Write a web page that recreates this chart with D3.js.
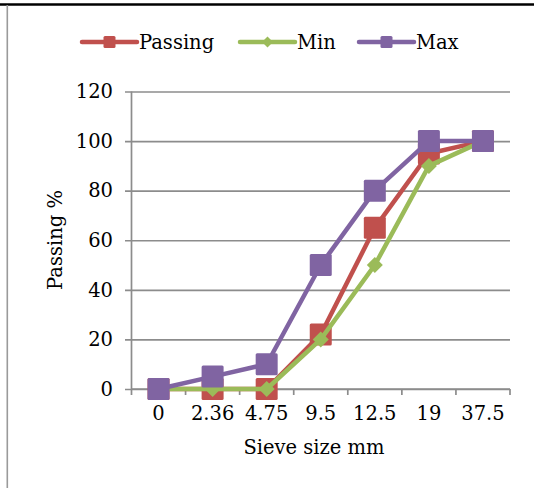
<!DOCTYPE html>
<html>
<head>
<meta charset="utf-8">
<script src="https://cdn.jsdelivr.net/npm/d3@7"></script>
<style>
  html, body { margin: 0; padding: 0; background: #fff; }
  svg { display: block; }
  text { font-family: "DejaVu Serif", "Liberation Serif", serif; fill: #000; }
</style>
</head>
<body>
<svg id="chart" width="534" height="488"></svg>
<script>
// Sieve sizes (mm) and grading curves
const sieveSizes = ["0", "2.36", "4.75", "9.5", "12.5", "19", "37.5"];
const passing = [0, 0, 0, 22, 65, 95, 100];
const minLimit = [0, 0, 0, 20, 50, 90, 100];
const maxLimit = [0, 5, 10, 50, 80, 100, 100];
const yTicks = [0, 20, 40, 60, 80, 100, 120];

const seriesList = [
  { name: "Passing", values: passing, color: "#C0504D", marker: "square" },
  { name: "Min", values: minLimit, color: "#9BBB59", marker: "diamond" },
  { name: "Max", values: maxLimit, color: "#8064A2", marker: "square" }
];

const svg = d3.select("#chart");
const W = 534, H = 488;
const FS = 19.5;

// frame: dark rule on top, grey rule on the left
svg.append("line").attr("x1", 0).attr("x2", W).attr("y1", 4.5).attr("y2", 4.5)
  .attr("stroke", "#000").attr("stroke-width", 2.5);
svg.append("line").attr("x1", 7.3).attr("x2", 7.3).attr("y1", 5).attr("y2", H)
  .attr("stroke", "#9a9a9a").attr("stroke-width", 1.6);

const plot = { left: 131.5, right: 510, top: 91.5, bottom: 389 };

const x = d3.scaleBand().domain(sieveSizes).range([plot.left, plot.right]);
const y = d3.scaleLinear().domain([0, 120]).range([plot.bottom, plot.top]);

const gridColor = "#8c8c8c";

// horizontal gridlines with tick stubs on the left
const yAxis = d3.axisLeft(y).tickValues(yTicks)
  .tickSize(-(plot.right - plot.left)).tickPadding(0).tickFormat("");
const yg = svg.append("g").attr("transform", `translate(${plot.left},0)`).call(yAxis);
yg.select(".domain").remove();
yg.selectAll(".tick line").attr("stroke", gridColor).attr("stroke-width", 1.7)
  .attr("x1", -6.5);

// y tick labels
svg.append("g").selectAll("text").data(yTicks).join("text")
  .attr("x", 113).attr("y", d => y(d))
  .attr("dy", "0.35em").attr("text-anchor", "end")
  .attr("font-size", FS).text(d => d);

// vertical axis line
svg.append("line").attr("x1", plot.left).attr("x2", plot.left)
  .attr("y1", plot.top).attr("y2", plot.bottom + 6)
  .attr("stroke", gridColor).attr("stroke-width", 1.7);

// x axis: category boundaries as ticks
const xg = svg.append("g").attr("transform", `translate(0,${plot.bottom})`)
  .call(d3.axisBottom(x).tickSize(0).tickFormat(""));
xg.select(".domain").attr("stroke", gridColor).attr("stroke-width", 1.7)
  .attr("d", `M${plot.left},0H${plot.right}`);
const bounds = sieveSizes.map(s => x(s) + x.bandwidth());
xg.selectAll("line.bound").data(bounds).join("line").attr("class", "bound")
  .attr("x1", d => d).attr("x2", d => d).attr("y1", 0).attr("y2", 6)
  .attr("stroke", gridColor).attr("stroke-width", 1.7);

// x tick labels
svg.append("g").selectAll("text").data(sieveSizes).join("text")
  .attr("x", d => x(d) + x.bandwidth() / 2).attr("y", 413)
  .attr("dy", "0.35em").attr("text-anchor", "middle")
  .attr("font-size", FS).text(d => d);

// axis titles
svg.append("text").attr("x", 314).attr("y", 447).attr("dy", "0.35em")
  .attr("text-anchor", "middle").attr("font-size", FS).text("Sieve size mm");
svg.append("text")
  .attr("transform", `translate(55,240) rotate(-90)`)
  .attr("dy", "0.35em").attr("text-anchor", "middle")
  .attr("font-size", FS).text("Passing %");

// series lines and markers
const line = d3.line()
  .x((d, i) => x(sieveSizes[i]) + x.bandwidth() / 2)
  .y(d => y(d));

function drawMarker(g, type, color, size) {
  if (type === "square") {
    g.append("rect").attr("x", -size / 2).attr("y", -size / 2)
      .attr("width", size).attr("height", size).attr("rx", 1.5)
      .attr("fill", color);
  } else {
    const r = size / 2;
    g.append("path").attr("d", `M0,${-r}L${r},0L0,${r}L${-r},0Z`).attr("fill", color);
  }
}

seriesList.forEach(s => {
  const g = svg.append("g");
  g.append("path").datum(s.values).attr("d", line)
    .attr("fill", "none").attr("stroke", s.color)
    .attr("stroke-width", 4.5).attr("stroke-linejoin", "round").attr("stroke-linecap", "round");
  s.values.forEach((v, i) => {
    const m = g.append("g")
      .attr("transform", `translate(${x(sieveSizes[i]) + x.bandwidth() / 2},${y(v)})`);
    drawMarker(m, s.marker, s.color, s.marker === "square" ? 22 : 16);
  });
});

// legend
const legendItems = [
  { x: 82, label: "Passing" },
  { x: 240, label: "Min" },
  { x: 359, label: "Max" }
];
seriesList.forEach((s, i) => {
  const lx = legendItems[i].x;
  const g = svg.append("g").attr("transform", `translate(${lx},42)`);
  g.append("line").attr("x1", 0).attr("x2", 55).attr("y1", 0).attr("y2", 0)
    .attr("stroke", s.color).attr("stroke-width", 4.5).attr("stroke-linecap", "round");
  const m = g.append("g").attr("transform", "translate(27.5,0)");
  drawMarker(m, s.marker, s.color, s.marker === "square" ? 12 : 11);
  g.append("text").attr("x", 57).attr("y", 0).attr("dy", "0.35em")
    .attr("font-size", FS).text(s.name);
});
</script>
</body>
</html>
